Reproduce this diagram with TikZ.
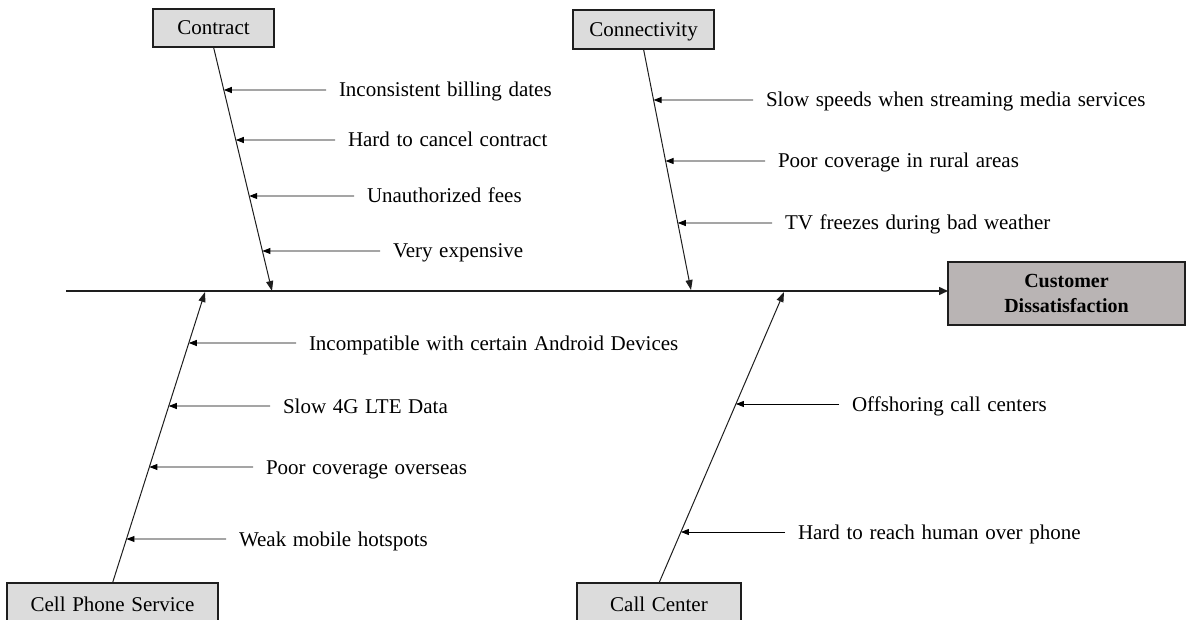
\documentclass[tikz,border=0pt]{standalone}
\usepackage{fontspec}
\setmainfont{Liberation Serif}
\usetikzlibrary{arrows.meta,calc}
\definecolor{boxfill}{RGB}{220,220,220}
\definecolor{headfill}{RGB}{185,180,180}
\definecolor{linec}{RGB}{30,30,30}
\newcommand{\widewords}{\spaceskip=6.6pt plus 1pt minus 1pt\relax}
\begin{document}
\begin{tikzpicture}[x=1pt,y=-1pt,
  font=\fontsize{21}{25}\selectfont\widewords,
  catbox/.style={draw=linec,line width=1.5pt,fill=boxfill,inner sep=0pt,outer sep=0pt,text height=14pt,text depth=0pt},
  headbox/.style={draw=linec,line width=1.5pt,fill=headfill,minimum width=237pt,minimum height=63pt,inner sep=0pt,outer sep=0pt,align=center,font=\fontsize{20}{25}\selectfont\bfseries},
  cause/.style={anchor=west,inner xsep=13pt,inner ysep=0pt,outer sep=0pt,text height=14pt,text depth=0pt},
  causearrow/.style={draw=black,line width=0.9pt,-{Triangle[length=8pt,width=6pt]}},
  bone/.style={draw=linec,line width=1pt,-{Triangle[length=10pt,width=7pt]}},
  spine/.style={draw=linec,line width=1.4pt,-{Triangle[length=9pt,width=8pt]}}
]
\useasboundingbox (0,0) rectangle (1188,620);

% category boxes and head
\node[catbox,minimum width=121pt,minimum height=38pt] (contract) at (213.5,28) {Contract};
\node[catbox,minimum width=141pt,minimum height=39pt] (connect) at (643.5,29.5) {Connectivity};
\node[catbox,minimum width=211pt,minimum height=42pt] (cell) at (112.5,604) {Cell Phone Service};
\node[catbox,minimum width=164pt,minimum height=42pt] (callc) at (659,604) {Call Center};
\node[headbox] (head) at (1066.5,293.5) {Customer\\Dissatisfaction};

% spine
\coordinate (tail) at (66,291);
\draw[spine] (tail) -- (tail -| head.west);

% bone tips on spine
\coordinate (ctip) at (272,291);
\coordinate (ntip) at (691,290);
\coordinate (ptip) at (205,292);
\coordinate (ltip) at (784,292);

\draw[bone] (contract.south) -- (ctip);
\draw[bone] (connect.south) -- (ntip);
\draw[bone] (cell.north) -- (ptip);
\draw[bone] (callc.north) -- (ltip);

% Contract causes
\coordinate (c1t) at (intersection of contract.south--ctip and 0,90--1000,90);
\coordinate (c2t) at (intersection of contract.south--ctip and 0,140--1000,140);
\coordinate (c3t) at (intersection of contract.south--ctip and 0,196--1000,196);
\coordinate (c4t) at (intersection of contract.south--ctip and 0,251--1000,251);
\node[cause] (c1) at (326,90) {Inconsistent billing dates};
\node[cause] (c2) at (335,140) {Hard to cancel contract};
\node[cause] (c3) at (354,196) {Unauthorized fees};
\node[cause] (c4) at (380,251) {Very expensive};
\draw[causearrow] (c1.west) -- (c1t);
\draw[causearrow] (c2.west) -- (c2t);
\draw[causearrow] (c3.west) -- (c3t);
\draw[causearrow] (c4.west) -- (c4t);

% Connectivity causes
\coordinate (n1t) at (intersection of connect.south--ntip and 0,100--1000,100);
\coordinate (n2t) at (intersection of connect.south--ntip and 0,161--1000,161);
\coordinate (n3t) at (intersection of connect.south--ntip and 0,223--1000,223);
\node[cause] (n1) at (753,100) {Slow speeds when streaming media services};
\node[cause] (n2) at (765,161) {Poor coverage in rural areas};
\node[cause] (n3) at (772,223) {TV freezes during bad weather};
\draw[causearrow] (n1.west) -- (n1t);
\draw[causearrow] (n2.west) -- (n2t);
\draw[causearrow] (n3.west) -- (n3t);

% Cell phone causes
\coordinate (p1t) at (intersection of cell.north--ptip and 0,343--1000,343);
\coordinate (p2t) at (intersection of cell.north--ptip and 0,406--1000,406);
\coordinate (p3t) at (intersection of cell.north--ptip and 0,467--1000,467);
\coordinate (p4t) at (intersection of cell.north--ptip and 0,539--1000,539);
\node[cause] (p1) at (296,343) {Incompatible with certain Android Devices};
\node[cause] (p2) at (270,406) {Slow 4G LTE Data};
\node[cause] (p3) at (253,467) {Poor coverage overseas};
\node[cause] (p4) at (226,539) {Weak mobile hotspots};
\draw[causearrow] (p1.west) -- (p1t);
\draw[causearrow] (p2.west) -- (p2t);
\draw[causearrow] (p3.west) -- (p3t);
\draw[causearrow] (p4.west) -- (p4t);

% Call center causes
\coordinate (l1t) at (intersection of callc.north--ltip and 0,404--1200,404);
\coordinate (l2t) at (intersection of callc.north--ltip and 0,532--1200,532);
\node[cause] (l1) at (839,404) {Offshoring call centers};
\node[cause] (l2) at (785,532) {Hard to reach human over phone};
\draw[causearrow] (l1.west) -- (l1t);
\draw[causearrow] (l2.west) -- (l2t);
\end{tikzpicture}
\end{document}
